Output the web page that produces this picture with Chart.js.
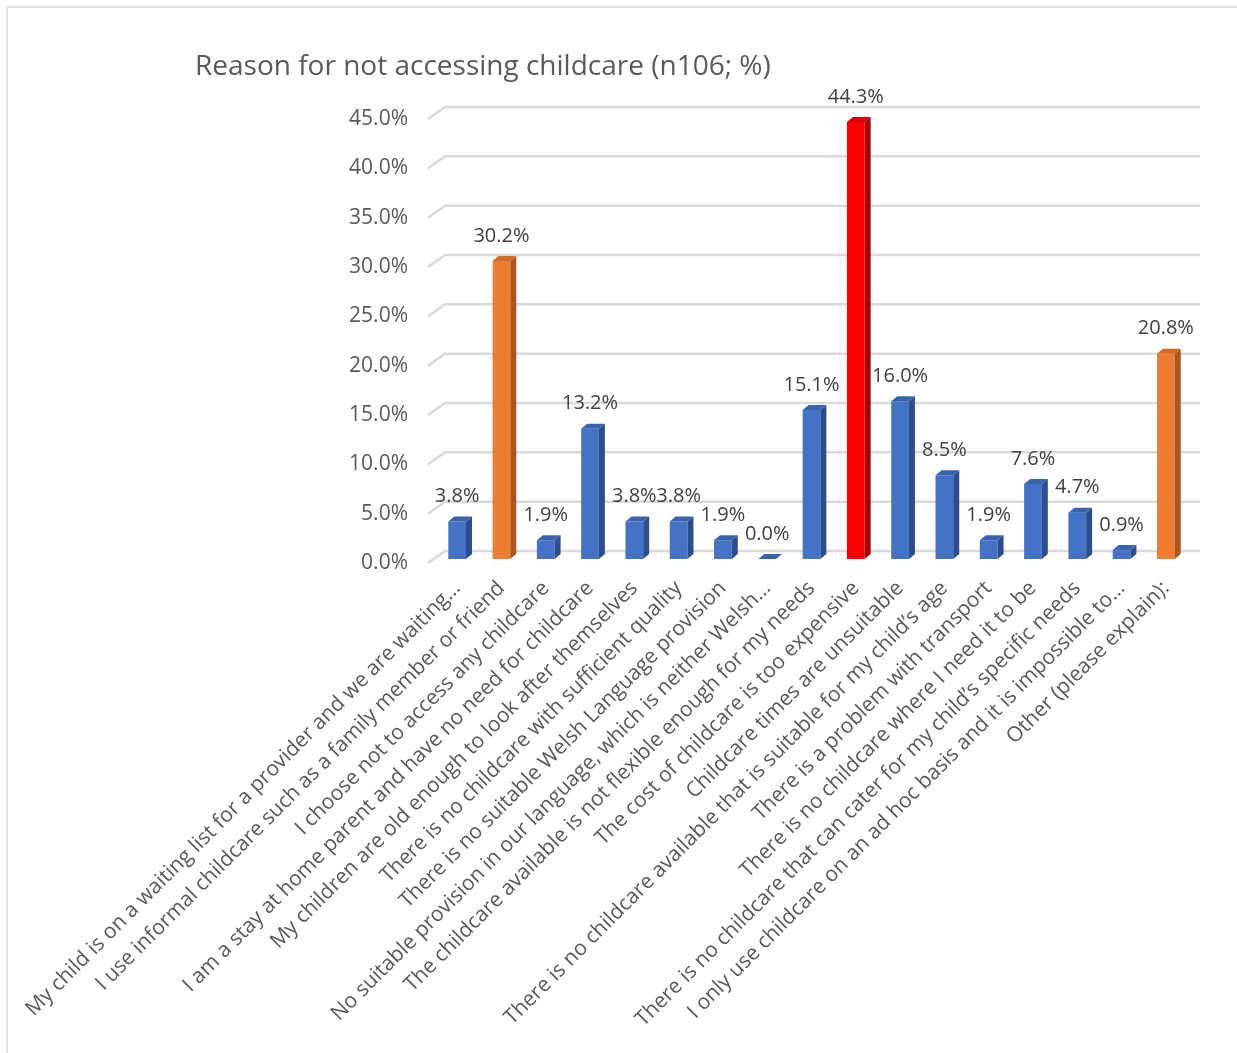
<!DOCTYPE html>
<html>
<head>
<meta charset="utf-8">
<script src="https://cdn.jsdelivr.net/npm/chart.js@4"></script>
<style>
  html, body { margin: 0; padding: 0; background: #ffffff; overflow: hidden; }
  #frame { position: absolute; left: 6px; top: 6px; width: 1260px; height: 1060px; border: 2px solid #e2e2e2; }
  #c { position: absolute; left: 0; top: 0; }
</style>
</head>
<body>
<div id="frame"></div>
<canvas id="c" width="1237" height="1053"></canvas>
<script>
const chartTitle = 'Reason for not accessing childcare (n106; %)';

const categories = [
  'My child is on a waiting list for a provider and we are waiting…',
  'I use informal childcare such as a family member or friend',
  'I choose not to access any childcare',
  'I am a stay at home parent and have no need for childcare',
  'My children are old enough to look after themselves',
  'There is no childcare with sufficient quality',
  'There is no suitable Welsh Language provision',
  'No suitable provision in our language, which is neither Welsh…',
  'The childcare available is not flexible enough for my needs',
  'The cost of childcare is too expensive',
  'Childcare times are unsuitable',
  'There is no childcare available that is suitable for my child’s age',
  'There is a problem with transport',
  'There is no childcare where I need it to be',
  'There is no childcare that can cater for my child’s specific needs',
  'I only use childcare on an ad hoc basis and it is impossible to…',
  'Other (please explain):'
];

const percentValues = [3.8, 30.2, 1.9, 13.2, 3.8, 3.8, 1.9, 0.0, 15.1, 44.3, 16.0, 8.5, 1.9, 7.6, 4.7, 0.9, 20.8];

const yTickValues = [0, 5, 10, 15, 20, 25, 30, 35, 40, 45];

const orangeIndices = [1, 16];
const redIndices = [9];

const palette = {
  blue:   { front: '#4472C4', side: '#2C4E8C', top: '#3A63AE' },
  orange: { front: '#ED7D31', side: '#A9561F', top: '#D16B27' },
  red:    { front: '#FF0000', side: '#A80000', top: '#D60000' }
};
function paletteFor(i) {
  if (redIndices.includes(i)) return palette.red;
  if (orangeIndices.includes(i)) return palette.orange;
  return palette.blue;
}

const FONT = "'Open Sans', 'DejaVu Sans', sans-serif";

const grid3d = {
  id: 'grid3d',
  beforeDatasetsDraw(chart) {
    const y = chart.scales.y, a = chart.chartArea, ctx = chart.ctx;
    ctx.save();
    ctx.strokeStyle = '#d9d9d9';
    ctx.lineWidth = 2.5;
    ctx.lineJoin = 'round';
    yTickValues.forEach(v => {
      const py = y.getPixelForValue(v);
      ctx.beginPath();
      ctx.moveTo(a.left - 7, py + 4);
      ctx.lineTo(a.left + 10, py - 8);
      ctx.lineTo(a.right + 12, py - 8);
      ctx.stroke();
    });
    ctx.restore();
  }
};

const bars3d = {
  id: 'bars3d',
  afterDatasetsDraw(chart) {
    const ctx = chart.ctx;
    const meta = chart.getDatasetMeta(0);
    const dx = 6, dy = 5;
    ctx.save();
    meta.data.forEach((bar, i) => {
      const p = bar.getProps(['x', 'y', 'base', 'width'], true);
      const l = p.x - p.width / 2, r = p.x + p.width / 2;
      const col = paletteFor(i);
      ctx.fillStyle = col.side;
      ctx.beginPath();
      ctx.moveTo(r, p.y);
      ctx.lineTo(r + dx, p.y - dy);
      ctx.lineTo(r + dx, p.base - dy);
      ctx.lineTo(r, p.base);
      ctx.closePath();
      ctx.fill();
      ctx.fillStyle = col.top;
      ctx.beginPath();
      ctx.moveTo(l, p.y);
      ctx.lineTo(l + dx, p.y - dy);
      ctx.lineTo(r + dx, p.y - dy);
      ctx.lineTo(r, p.y);
      ctx.closePath();
      ctx.fill();
    });
    ctx.fillStyle = '#404040';
    ctx.font = '20px ' + FONT;
    ctx.textAlign = 'center';
    ctx.textBaseline = 'middle';
    meta.data.forEach((bar, i) => {
      const p = bar.getProps(['x', 'y'], true);
      ctx.fillText(percentValues[i].toFixed(1) + '%', p.x, p.y - 25);
    });
    ctx.restore();
  }
};

new Chart(document.getElementById('c'), {
  type: 'bar',
  data: {
    labels: categories,
    datasets: [{
      data: percentValues,
      backgroundColor: ctx => paletteFor(ctx.dataIndex).front,
      borderWidth: 0,
      barPercentage: 0.4,
      categoryPercentage: 1.0
    }]
  },
  options: {
    responsive: false,
    animation: false,
    devicePixelRatio: 1,
    layout: { padding: { left: 195, top: 20, right: 49, bottom: 0 } },
    plugins: {
      legend: { display: false },
      tooltip: { enabled: false },
      title: {
        display: true,
        text: chartTitle,
        align: 'start',
        color: '#595959',
        font: { family: FONT, size: 28, weight: 'normal' },
        padding: { top: 30, bottom: 31.4 }
      }
    },
    scales: {
      x: {
        grid: { display: false, drawTicks: false },
        border: { display: false },
        ticks: {
          autoSkip: false,
          minRotation: 45,
          maxRotation: 45,
          padding: 17,
          color: '#595959',
          font: { family: FONT, size: 21 }
        },
        afterFit(s) {
          s.height = 494;
          s.paddingLeft = 0;
          s.paddingRight = 0;
        }
      },
      y: {
        min: 0,
        max: 45,
        grid: { display: false, drawTicks: false },
        border: { display: false },
        ticks: {
          stepSize: 5,
          padding: 27,
          labelOffset: 4,
          color: '#595959',
          font: { family: FONT, size: 21 },
          callback: v => v.toFixed(1) + '%'
        },
        afterFit(s) {
          s.width = 240;
          s.paddingTop = 0;
          s.paddingBottom = 0;
        }
      }
    }
  },
  plugins: [grid3d, bars3d]
});
</script>
</body>
</html>
